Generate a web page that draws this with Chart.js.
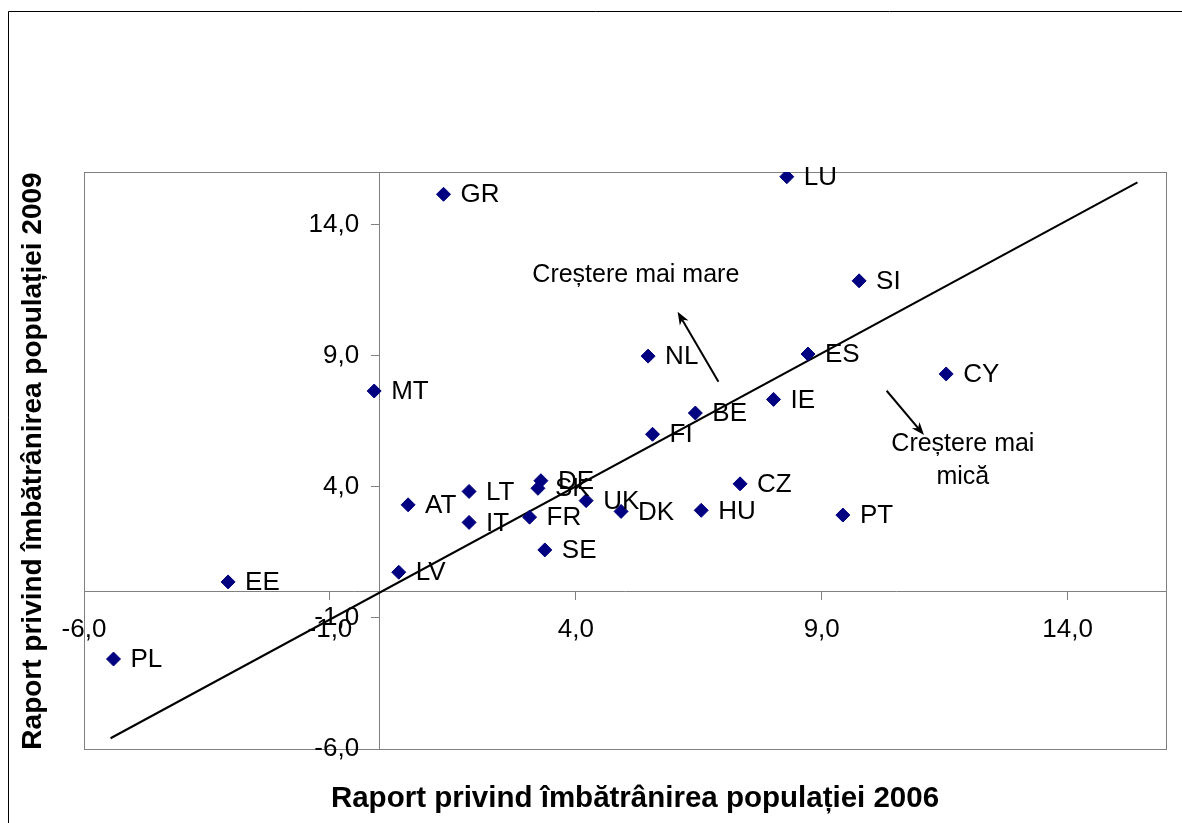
<!DOCTYPE html>
<html>
<head>
<meta charset="utf-8">
<script src="https://cdn.jsdelivr.net/npm/chart.js@4/dist/chart.umd.min.js"></script>
<style>
  html, body { margin: 0; padding: 0; background: #fff; }
  #wrap { width: 1182px; height: 823px; }
</style>
</head>
<body>
<div id="wrap"><canvas id="agingChart" width="1182" height="823"></canvas></div>
<script>
// --- DATA ---
const countries = ['GR', 'LU', 'SI', 'NL', 'ES', 'CY', 'MT', 'IE', 'BE', 'FI', 'CZ', 'DE', 'SK',
  'LT', 'UK', 'AT', 'DK', 'HU', 'PT', 'IT', 'FR', 'SE', 'LV', 'EE', 'PL'];
const ratio2006 = [1.31, 8.29, 9.76, 5.47, 8.72, 11.53, -0.10, 8.02, 6.43, 5.56, 7.34, 3.29, 3.23,
  1.83, 4.21, 0.59, 4.92, 6.55, 9.43, 1.83, 3.06, 3.37, 0.40, -3.07, -5.40];
const ratio2009 = [15.15, 15.82, 11.85, 8.98, 9.06, 8.30, 7.65, 7.33, 6.81, 6.00, 4.11, 4.23, 3.94,
  3.82, 3.47, 3.31, 3.06, 3.10, 2.92, 2.64, 2.84, 1.59, 0.74, 0.37, -2.57];

// trend line ends
const trendX = [-5.46, 15.42];
const trendY = [-5.59, 15.60];

const tickValues = [-6, -1, 4, 9, 14];
const tickLabels = ['-6,0', '-1,0', '4,0', '9,0', '14,0'];

const xTitle = 'Raport privind îmbătrânirea populației 2006';
const yTitle = 'Raport privind îmbătrânirea populației 2009';

// text notes and arrows (in data units)
const noteUp = { text: ['Creștere mai mare'], x: 5.22, y: 12.07 };
const noteDown = { text: ['Creștere mai', 'mică'], x: 11.87, y: 5.63 };
const arrowUp = { from: [6.90, 8.00], to: [6.07, 10.67] };
const arrowDown = { from: [10.32, 7.66], to: [11.08, 5.97] };

const FONT = '"Liberation Sans", Arial, sans-serif';
const NAVY = '#000080';
const GREY = '#808080';

const points = ratio2006.map((x, i) => ({ x: x, y: ratio2009[i] }));
const trend = trendX.map((x, i) => ({ x: x, y: trendY[i] }));

function drawArrow(ctx, x1, y1, x2, y2) {
  const ang = Math.atan2(y2 - y1, x2 - x1);
  const len = 13, half = 5;
  ctx.beginPath();
  ctx.moveTo(x1, y1);
  ctx.lineTo(x2 - Math.cos(ang) * len * 0.7, y2 - Math.sin(ang) * len * 0.7);
  ctx.stroke();
  ctx.beginPath();
  ctx.moveTo(x2, y2);
  ctx.lineTo(x2 - Math.cos(ang) * len - Math.sin(ang) * half, y2 - Math.sin(ang) * len + Math.cos(ang) * half);
  ctx.lineTo(x2 - Math.cos(ang) * len * 0.7, y2 - Math.sin(ang) * len * 0.7);
  ctx.lineTo(x2 - Math.cos(ang) * len + Math.sin(ang) * half, y2 - Math.sin(ang) * len - Math.cos(ang) * half);
  ctx.closePath();
  ctx.fill();
}

const decorPlugin = {
  id: 'decor',
  beforeDraw(chart) {
    const { ctx, chartArea: a } = chart;
    ctx.save();
    // outer frame (only top and left edges are visible)
    ctx.strokeStyle = '#000';
    ctx.lineWidth = 1;
    ctx.beginPath();
    ctx.moveTo(8.5, 900);
    ctx.lineTo(8.5, 11.5);
    ctx.lineTo(1200, 11.5);
    ctx.stroke();
    // plot area border
    ctx.strokeStyle = GREY;
    ctx.strokeRect(Math.round(a.left) + 0.5, Math.round(a.top) + 0.5,
      Math.round(a.right - a.left), Math.round(a.bottom - a.top));
    ctx.restore();
  },
  afterDraw(chart) {
    const { ctx, scales } = chart;
    const sx = scales.x, sy = scales.y;
    ctx.save();
    ctx.fillStyle = '#000';
    // y tick labels, left of the tick marks on the centred axis
    ctx.font = '26px ' + FONT;
    ctx.textAlign = 'right';
    ctx.textBaseline = 'middle';
    const yAxisX = sx.getPixelForValue(0);
    tickValues.forEach((v, i) => {
      ctx.fillText(tickLabels[i], yAxisX - 20, sy.getPixelForValue(v));
    });
    // point labels
    ctx.textAlign = 'left';
    chart.getDatasetMeta(0).data.forEach((el, i) => {
      ctx.fillText(countries[i], el.x + 17, el.y + 1);
    });
    // notes
    ctx.font = '25px ' + FONT;
    ctx.textAlign = 'center';
    [noteUp, noteDown].forEach(n => {
      const px = sx.getPixelForValue(n.x), py = sy.getPixelForValue(n.y);
      n.text.forEach((t, k) => ctx.fillText(t, px, py + k * 33));
    });
    // arrows
    ctx.strokeStyle = '#000';
    ctx.lineWidth = 2;
    [arrowUp, arrowDown].forEach(ar => {
      drawArrow(ctx, sx.getPixelForValue(ar.from[0]), sy.getPixelForValue(ar.from[1]),
        sx.getPixelForValue(ar.to[0]), sy.getPixelForValue(ar.to[1]));
    });
    // axis titles
    ctx.textAlign = 'center';
    ctx.font = 'bold 29.5px ' + FONT;
    ctx.fillText(xTitle, 635, 799);
    ctx.font = 'bold 28px ' + FONT;
    ctx.translate(33, 461);
    ctx.rotate(-Math.PI / 2);
    ctx.fillText(yTitle, 0, 0);
    ctx.restore();
  }
};

const ctx = document.getElementById('agingChart').getContext('2d');
new Chart(ctx, {
  type: 'scatter',
  data: {
    datasets: [{
      data: points,
      pointStyle: 'rectRot',
      pointRadius: 7,
      pointHoverRadius: 7,
      backgroundColor: NAVY,
      borderColor: NAVY,
      borderWidth: 1
    }, {
      type: 'line',
      data: trend,
      showLine: true,
      borderColor: '#000',
      borderWidth: 2,
      pointRadius: 0,
      fill: false
    }]
  },
  options: {
    responsive: false,
    animation: false,
    events: [],
    layout: { padding: { left: 84, right: 16, top: 172, bottom: 74 } },
    plugins: { legend: { display: false }, tooltip: { enabled: false } },
    scales: {
      x: {
        type: 'linear',
        min: -6,
        max: 16,
        position: { y: 0 },
        afterBuildTicks: (s) => { s.ticks = tickValues.map(v => ({ value: v })); },
        ticks: {
          color: '#000',
          font: { family: FONT, size: 26 },
          padding: 15,
          maxRotation: 0,
          autoSkip: false,
          callback: (v, i) => tickLabels[i]
        },
        grid: { drawOnChartArea: false, drawTicks: true, tickLength: 8, color: GREY },
        border: { color: GREY, width: 1 }
      },
      y: {
        type: 'linear',
        min: -6,
        max: 16,
        position: { x: 0 },
        afterBuildTicks: (s) => { s.ticks = tickValues.map(v => ({ value: v })); },
        ticks: { display: false },
        grid: { drawOnChartArea: false, drawTicks: true, tickLength: 8, color: GREY },
        border: { color: GREY, width: 1 }
      }
    }
  },
  plugins: [decorPlugin]
});
</script>
</body>
</html>
